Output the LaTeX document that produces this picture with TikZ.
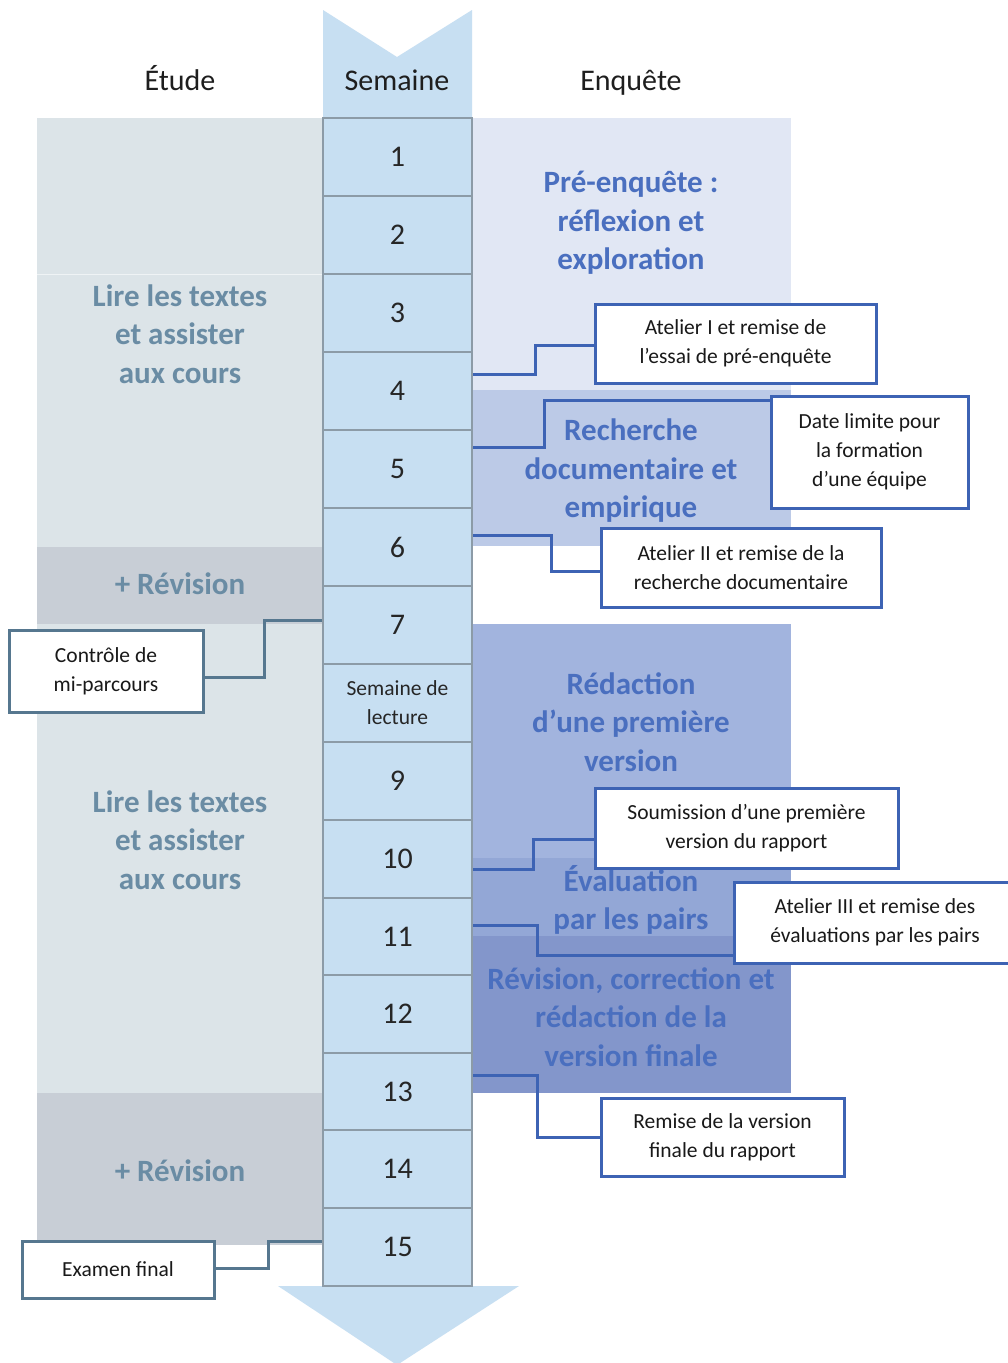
\documentclass[tikz,border=0pt]{standalone}
\usepackage{fontspec}
\setmainfont{Carlito}
\usetikzlibrary{calc}
\definecolor{colfill}{HTML}{C7DFF2}
\definecolor{rowline}{HTML}{8C9BA7}
\definecolor{leftlight}{HTML}{DCE4E8}
\definecolor{leftdark}{HTML}{C8CED6}
\definecolor{lefttext}{HTML}{6A8CA4}
\definecolor{preenq}{HTML}{E1E7F4}
\definecolor{rech}{HTML}{BCCAE7}
\definecolor{redac}{HTML}{A2B4DE}
\definecolor{evalc}{HTML}{93A7D6}
\definecolor{revfin}{HTML}{8396CB}
\definecolor{phasetext}{HTML}{4A6FBF}
\definecolor{calblue}{HTML}{3D63B4}
\definecolor{calgray}{HTML}{56778F}
\definecolor{headtext}{HTML}{1E1E1E}
\pgfdeclarelayer{bglayer}
\pgfdeclarelayer{connlayer}
\pgfsetlayers{bglayer,connlayer,main}
\begin{document}
\begin{tikzpicture}[x=1pt,y=-1pt,
  weekrow/.style={draw=rowline, line width=1.2pt, fill=colfill, minimum width=149pt,
    minimum height=77.87pt, inner sep=0pt, font=\fontsize{30}{36}\selectfont, text=black!85},
  lectrow/.style={weekrow, align=center, font=\fontsize{21.5}{29}\selectfont},
  callout/.style={draw=calblue, line width=3pt, fill=white, inner sep=0pt, align=center,
    font=\fontsize{21.5}{29}\selectfont, text=black!90},
  callgray/.style={callout, draw=calgray},
  conn/.style={draw=calblue, line width=3pt},
  conngray/.style={conn, draw=calgray},
  phase/.style={align=center, font=\bfseries\fontsize{31}{38.5}\selectfont, text=phasetext},
  study/.style={align=center, font=\bfseries\fontsize{31}{38.5}\selectfont, text=lefttext},
  head/.style={anchor=base, font=\fontsize{30}{36}\selectfont, text=headtext}]
\clip (0,0) rectangle (1008,1363);
\begin{pgfonlayer}{bglayer}
\fill[white] (0,0) rectangle (1008,1363);
% left column backgrounds
\fill[leftlight] (37,118) rectangle (323,547);
\fill[leftdark] (37,547) rectangle (323,624);
\fill[leftlight] (37,624) rectangle (323,1093);
\fill[leftdark] (37,1093) rectangle (323,1245);
\draw[white!55!leftlight, line width=1pt] (37,274) -- (323,274);
% right column backgrounds
\fill[preenq] (472,118) rectangle (791,390);
\fill[rech] (472,390) rectangle (791,546);
\fill[redac] (472,624) rectangle (791,858);
\fill[evalc] (472,858) rectangle (791,936);
\fill[revfin] (472,936) rectangle (791,1093);
% arrow column ends
\fill[colfill] (323,10) -- (397,57) -- (472,10) -- (472,118) -- (323,118) -- cycle;
\fill[colfill] (278,1286) -- (519,1286) -- (397,1365) -- cycle;
\end{pgfonlayer}
% weeks
\node[weekrow] (w1) at (397.5,157) {1};
\node[weekrow] (w2) at (397.5,235) {2};
\node[weekrow] (w3) at (397.5,313) {3};
\node[weekrow] (w4) at (397.5,391) {4};
\node[weekrow] (w5) at (397.5,469) {5};
\node[weekrow] (w6) at (397.5,547) {6};
\node[weekrow] (w7) at (397.5,625) {7};
\node[lectrow] (w8) at (397.5,703) {Semaine de\\lecture};
\node[weekrow] (w9) at (397.5,781) {9};
\node[weekrow] (w10) at (397.5,859) {10};
\node[weekrow] (w11) at (397.5,937) {11};
\node[weekrow] (w12) at (397.5,1014) {12};
\node[weekrow] (w13) at (397.5,1092) {13};
\node[weekrow] (w14) at (397.5,1169) {14};
\node[weekrow] (w15) at (397.5,1247) {15};
% headers
\node[head] (hetude) at (180,90) {Étude};
\node[head] (hsem) at (397,90) {Semaine};
\node[head] (henq) at (631,90) {Enquête};
% study texts
\node[study] (lire1) at (180,334) {Lire les textes\\et assister\\aux cours};
\node[study] (rev1) at (180,584) {+ Révision};
\node[study] (lire2) at (180,840) {Lire les textes\\et assister\\aux cours};
\node[study] (rev2) at (180,1171) {+ Révision};
% phase titles
\node[phase] (p1) at (631,223) {Pré-enquête :\\réflexion et\\exploration};
\node[phase] (p2) at (631,471) {Recherche\\documentaire et\\empirique};
\node[phase] (p3) at (631,722) {Rédaction\\d’une première\\version};
\node[phase] (p4) at (631,900) {Évaluation\\par les pairs};
\node[phase] (p5) at (631,1017) {Révision, correction et\\rédaction de la\\version finale};
% callout boxes
\node[callout, minimum width=281pt, minimum height=79pt] (a1) at (735.5,343.5) {Atelier I et remise de\\l’essai de pré-enquête};
\node[callout, minimum width=197pt, minimum height=112pt] (dl) at (869.5,452) {Date limite pour\\la formation\\d’une équipe};
\node[callout, minimum width=280pt, minimum height=79pt] (a2) at (741,567.5) {Atelier II et remise de la\\recherche documentaire};
\node[callgray, minimum width=194pt, minimum height=82pt] (ct) at (106,671) {Contrôle de\\mi-parcours};
\node[callout, minimum width=303pt, minimum height=80pt] (sm) at (746.5,828) {Soumission d’une première\\version du rapport};
\node[callout, minimum width=282pt, minimum height=81pt] (a3) at (875,922.5) {Atelier III et remise des\\évaluations par les pairs};
\node[callout, minimum width=243pt, minimum height=78pt] (rm) at (722.5,1137) {Remise de la version\\finale du rapport};
\node[callgray, minimum width=192pt, minimum height=57pt] (ex) at (118,1269.5) {Examen final};
% connector start points on the column edges
\coordinate (c1) at (472,374);
\coordinate (c2) at (472,447);
\coordinate (c3) at (472,535);
\coordinate (c4) at (323,620);
\coordinate (c5) at (472,869);
\coordinate (c6) at (472,925);
\coordinate (c7) at (472,1075);
\coordinate (c8) at (323,1241);
% connectors
\begin{pgfonlayer}{connlayer}
\draw[conn] (c1) -- ++(63,0) |- ([yshift=-1.5pt]a1.west);
\draw[conn] (c2) -- ++(72,0) |- ([yshift=52pt]dl.west);
\draw[conn] (c3) -- ++(79,0) |- ([yshift=-3.5pt]a2.west);
\draw[conngray] (c4) -- ++(-59,0) |- ([yshift=-6pt]ct.east);
\draw[conn] (c5) -- ++(61,0) |- ([yshift=-11pt]sm.west);
\draw[conn] (c6) -- ++(65,0) |- ([yshift=-32.5pt]a3.west);
\draw[conn] (c7) -- ++(65,0) |- (rm.west);
\draw[conngray] (c8) -- ++(-55,0) |- ([yshift=1.5pt]ex.east);
\end{pgfonlayer}
\end{tikzpicture}
\end{document}
